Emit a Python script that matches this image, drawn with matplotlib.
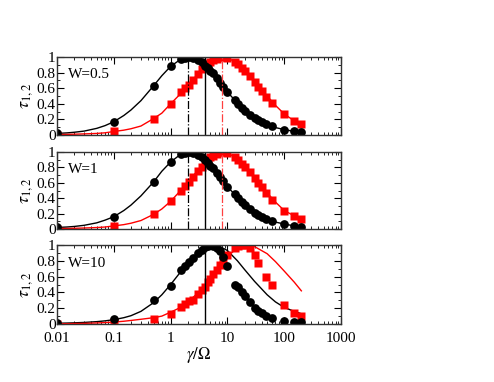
import matplotlib
matplotlib.use('Agg')
import matplotlib.pyplot as plt
import numpy as np
from matplotlib.ticker import LogLocator, MultipleLocator, NullFormatter

plt.rcParams['font.family'] = ['Liberation Serif', 'DejaVu Serif']
plt.rcParams['mathtext.fontset'] = 'stix'

# x values of the simulated points
xp = [0.01, 0.1, 0.5, 1, 1.5, 1.8, 2.1, 2.5, 3, 3.5, 4, 4.5, 5, 5.5, 6.5, 7.5, 8.5,
      10, 13.5, 15.5, 18, 20.5, 25, 30, 35, 40, 48, 60, 100, 150, 200]
# x values of the analytic curves
xc = [0.01, 0.015, 0.02, 0.03, 0.05, 0.07, 0.1, 0.15, 0.2, 0.3, 0.5, 0.7, 1, 1.5, 2,
      3, 4, 5, 7, 10, 15, 20, 30, 50, 70, 100, 150, 200]

nan = float('nan')

# W = 0.5
p1k = [0.02, 0.17, 0.63, 0.88, 0.97, 0.99, 1.0, 0.99, 0.96, 0.93, 0.89, 0.86, 0.82, 0.79,
       0.73, 0.67, 0.62, 0.55, 0.45, 0.40, 0.35, 0.31, 0.26, 0.22, 0.19, 0.165, 0.14, 0.11,
       0.07, 0.045, 0.035]
p1r = [0.005, 0.05, 0.21, 0.40, 0.55, 0.60, 0.645, 0.71, 0.78, 0.84, 0.88, 0.91, 0.94, 0.96,
       0.98, 1.0, 1.0, 0.99, 0.94, 0.91, 0.86, 0.82, 0.75, 0.68, 0.62, 0.56, 0.49, 0.41,
       0.27, 0.18, 0.14]
c1k = [0.02, 0.027, 0.035, 0.05, 0.085, 0.12, 0.17, 0.25, 0.32, 0.44, 0.63, 0.76, 0.88, 0.97,
       1.0, 0.96, 0.89, 0.82, 0.70, 0.55, 0.41, 0.32, 0.22, 0.13, 0.095, 0.07, 0.045, 0.035]
c1r = [0.005, 0.008, 0.01, 0.014, 0.02, 0.028, 0.045, 0.062, 0.08, 0.115, 0.21, 0.28, 0.40,
       0.53, 0.63, 0.78, 0.88, 0.94, 0.99, 0.99, 0.92, 0.82, 0.68, 0.50, 0.38, 0.27, 0.18, 0.14]

# W = 1
p2k = [0.02, 0.16, 0.61, 0.87, 0.97, 0.99, 1.0, 0.99, 0.96, 0.93, 0.89, 0.86, 0.82, 0.79,
       0.73, 0.67, 0.62, 0.55, 0.45, 0.40, 0.35, 0.31, 0.26, 0.21, 0.18, 0.16, 0.13, 0.10,
       0.07, 0.04, 0.03]
p2r = [0.005, 0.04, 0.19, 0.36, 0.50, 0.56, 0.61, 0.68, 0.75, 0.81, 0.86, 0.90, 0.93, 0.95,
       0.98, 1.0, 1.0, 0.99, 0.94, 0.90, 0.85, 0.81, 0.74, 0.66, 0.60, 0.54, 0.47, 0.38,
       0.24, 0.17, 0.13]
c2k = [0.02, 0.026, 0.033, 0.048, 0.08, 0.115, 0.16, 0.24, 0.31, 0.43, 0.61, 0.75, 0.87, 0.97,
       1.0, 0.96, 0.89, 0.82, 0.70, 0.55, 0.41, 0.32, 0.21, 0.13, 0.09, 0.065, 0.04, 0.03]
c2r = [0.005, 0.007, 0.009, 0.013, 0.019, 0.026, 0.04, 0.057, 0.075, 0.11, 0.19, 0.26, 0.36,
       0.50, 0.61, 0.76, 0.86, 0.93, 0.99, 0.99, 0.91, 0.81, 0.66, 0.47, 0.35, 0.24, 0.17, 0.13]

# W = 10
p3k = [0.01, 0.065, 0.30, 0.48, 0.68, 0.74, 0.79, 0.84, 0.90, 0.94, 0.97, 0.99, 1.0, 0.99,
       0.96, 0.92, 0.85, 0.73, 0.50, 0.47, 0.41, 0.35, 0.28, 0.20, 0.16, 0.14, 0.10, 0.075,
       0.04, 0.025, 0.02]
p3r = [0.0, 0.03, 0.06, 0.13, 0.21, 0.25, 0.29, 0.30, 0.38, 0.43, 0.47, 0.53, 0.57, 0.63,
       0.68, 0.75, 0.81, 0.87, 0.96, 0.99, 1.0, 1.0, 0.96, 0.87, 0.77, nan, 0.60, 0.49,
       0.24, 0.14, 0.10]
c3k = [0.01, 0.012, 0.015, 0.02, 0.03, 0.04, 0.055, 0.08, 0.105, 0.16, 0.27, 0.37, 0.50, 0.66,
       0.77, 0.90, 0.97, 1.0, 0.99, 0.93, 0.80, 0.69, 0.54, 0.37, 0.28, 0.21, 0.16, 0.13]
c3r = [0.003, 0.004, 0.006, 0.008, 0.013, 0.018, 0.025, 0.035, 0.045, 0.06, 0.08, 0.10, 0.15,
       0.21, 0.28, 0.39, 0.49, 0.57, 0.71, 0.85, 0.97, 1.0, 0.98, 0.89, 0.79, 0.67, 0.53, 0.42]

labels = ['W=0.5', 'W=1', 'W=10']
yticks = [0, 0.2, 0.4, 0.6, 0.8, 1.0]
ytick_labels = ['0', '0.2', '0.4', '0.6', '0.8', '1']
xticks = [0.01, 0.1, 1, 10, 100, 1000]
xtick_labels = ['0.01', '0.1', '1', '10', '100', '1000']
vlines_k = [[2], [2], []]
vlines_r = [[8], [8], []]
vline_solid = 4

panels = [(p1k, p1r, c1k, c1r), (p2k, p2r, c2k, c2r), (p3k, p3r, c3k, c3r)]
boxes = [[0.1154, 0.6466, 0.575, 0.2042],
         [0.1154, 0.4005, 0.575, 0.2016],
         [0.1154, 0.1518, 0.575, 0.2068]]

fig = plt.figure(figsize=(4.94, 3.82), dpi=100)
for i in range(3):
    pk, pr, ck, cr = panels[i]
    ax = fig.add_axes(boxes[i])
    ax.set_xscale('log')
    ax.plot(xc, ck, color='black', lw=1.0)
    ax.plot(xc, cr, color='red', lw=1.0)
    ax.plot(xp, pr, 's', color='red', ms=5.2, mec='none')
    ax.plot(xp, pk, 'o', color='black', ms=6.3, mec='none')
    for v in vlines_k[i]:
        ax.axvline(v, color='black', lw=0.9, ls='-.')
    for v in vlines_r[i]:
        ax.axvline(v, color='#ff4040', lw=0.9, ls='-.')
    ax.axvline(vline_solid, color='black', lw=1.0)
    ax.set_xlim(0.01, 1000)
    ax.set_ylim(0, 1)
    ax.set_yticks(yticks)
    ax.set_yticklabels(ytick_labels)
    ax.yaxis.set_minor_locator(MultipleLocator(0.1))
    ax.xaxis.set_major_locator(LogLocator(base=10, numticks=10))
    ax.xaxis.set_minor_locator(LogLocator(base=10, subs=np.arange(2, 10), numticks=10))
    ax.xaxis.set_minor_formatter(NullFormatter())
    ax.tick_params(which='both', direction='in', top=True, right=True, labelsize=11)
    ax.tick_params(which='major', length=5, width=0.8)
    ax.tick_params(which='minor', length=2.5, width=0.6)
    ax.tick_params(axis='y', pad=1)
    ax.tick_params(axis='x', pad=6)
    for s in ax.spines.values():
        s.set_linewidth(1.0)
        s.set_color('#333333')
    ax.text(0.04, 0.77, labels[i], transform=ax.transAxes, va='center', ha='left', fontsize=11)
    ax.set_ylabel(r'$\tau_{1,2}$', fontsize=13, labelpad=1)
    if i < 2:
        ax.set_xticklabels([])
    else:
        ax.set_xticks(xticks)
        ax.set_xticklabels(xtick_labels)
        ax.set_xlabel(r'$\gamma/\Omega$', fontsize=12, labelpad=0)

plt.savefig('out.png', dpi=100)
